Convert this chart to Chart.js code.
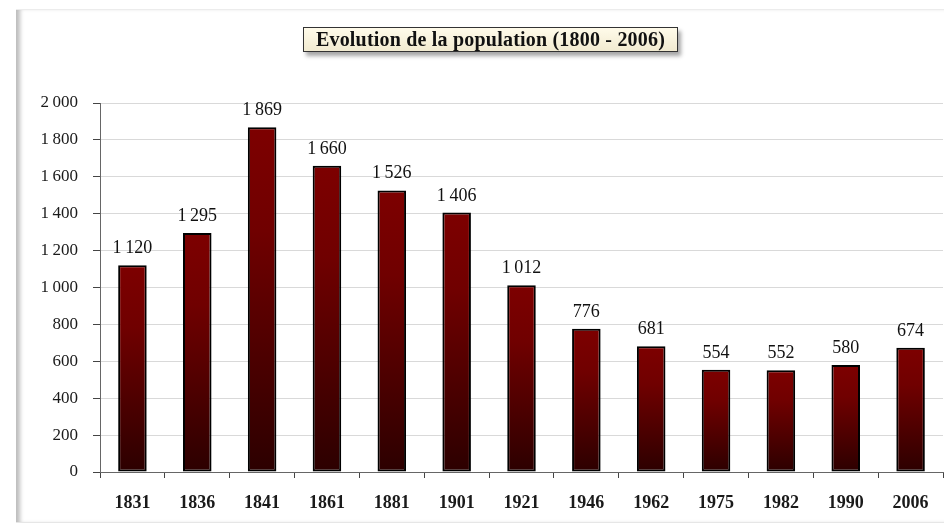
<!DOCTYPE html>
<html>
<head>
<meta charset="utf-8">
<script src="https://cdn.jsdelivr.net/npm/chart.js@4"></script>
<style>
  html, body { margin: 0; padding: 0; background: #fff; }
  #wrap { position: relative; width: 944px; height: 523px; overflow: hidden; }
  #frame { position: absolute; left: 16px; top: 9px; width: 940px; height: 512px;
    border-top: 1px solid #ececec; border-bottom: 2px solid #e6e6e6;
    box-shadow: inset 6px 0 4px -2px #bdbdbd; }
  #title { position: absolute; left: 303px; top: 27px; width: 373px; height: 23px;
    border: 1px solid #333; background: linear-gradient(#fffbea, #f1ead0);
    box-shadow: 3px 4px 4px rgba(0,0,0,0.35);
    font: bold 20px "Liberation Serif", serif; letter-spacing: 0.2px; color: #111; text-align: center; line-height: 23px;
    white-space: nowrap; }
  canvas { position: absolute; left: 0; top: 0; }
</style>
</head>
<body>
<div id="wrap">
  <div id="frame"></div>
  <canvas id="c" width="944" height="523"></canvas>
  <div id="title">Evolution de la population (1800 - 2006)</div>
</div>
<script>
const years = ['1831','1836','1841','1861','1881','1901','1921','1946','1962','1975','1982','1990','2006'];
const population = [1120, 1295, 1869, 1660, 1526, 1406, 1012, 776, 681, 554, 552, 580, 674];
const yMin = 0, yMax = 2000, yStep = 200;

function fmt(v) {
  const s = String(Math.round(v));
  return s.replace(/\B(?=(\d{3})+(?!\d))/g, '\u2009');
}

const labelPlugin = {
  id: 'barLabels',
  afterDatasetsDraw(chart) {
    const ctx = chart.ctx;
    const meta = chart.getDatasetMeta(0);
    ctx.save();
    ctx.font = '18px "Liberation Serif", serif';
    ctx.fillStyle = '#111';
    ctx.textAlign = 'center';
    ctx.textBaseline = 'alphabetic';
    meta.data.forEach((bar, i) => {
      ctx.fillText(fmt(population[i]), bar.x, bar.y - 12);
    });
    ctx.restore();
  }
};

function barGradient(context) {
  const chart = context.chart;
  const ys = chart.scales && chart.scales.y;
  if (!chart.chartArea || !ys || context.raw == null) return '#700000';
  const top = ys.getPixelForValue(context.raw);
  const bottom = ys.getPixelForValue(0);
  if (!isFinite(top) || !isFinite(bottom) || top === bottom) return '#700000';
  const g = chart.ctx.createLinearGradient(0, top, 0, bottom);
  g.addColorStop(0, '#7d0000');
  g.addColorStop(0.3, '#700000');
  g.addColorStop(1, '#2c0000');
  return g;
}

new Chart(document.getElementById('c'), {
  type: 'bar',
  data: {
    labels: years,
    datasets: [{
      data: population,
      backgroundColor: barGradient,
      borderColor: '#000',
      borderWidth: 2,
      borderSkipped: false,
      categoryPercentage: 1,
      barPercentage: 0.44
    }]
  },
  options: {
    responsive: false,
    animation: false,
    devicePixelRatio: 1,
    layout: { padding: { top: 103, right: 1, left: 0, bottom: 0 } },
    plugins: { legend: { display: false }, title: { display: false }, tooltip: { enabled: false } },
    scales: {
      x: {
        offset: true,
        grid: { display: true, offset: true, drawOnChartArea: false, tickLength: 6, color: '#444', tickWidth: 1 },
        border: { color: '#666', width: 1 },
        ticks: { padding: 15, color: '#1a1a1a', font: { family: '"Liberation Serif", serif', size: 18, weight: 'bold' }, maxRotation: 0 },
        afterFit(scale) { scale.height = 51; }
      },
      y: {
        min: yMin, max: yMax,
        ticks: { stepSize: yStep, padding: 15, color: '#1a1a1a', font: { family: '"Liberation Serif", serif', size: 17 },
          callback: v => fmt(v) },
        grid: { color: '#d9d9d9', lineWidth: 1, tickLength: 7, tickColor: '#444' },
        border: { color: '#666', width: 1 },
        afterFit(scale) { scale.width = 100; }
      }
    }
  },
  plugins: [labelPlugin]
});
</script>
</body>
</html>
